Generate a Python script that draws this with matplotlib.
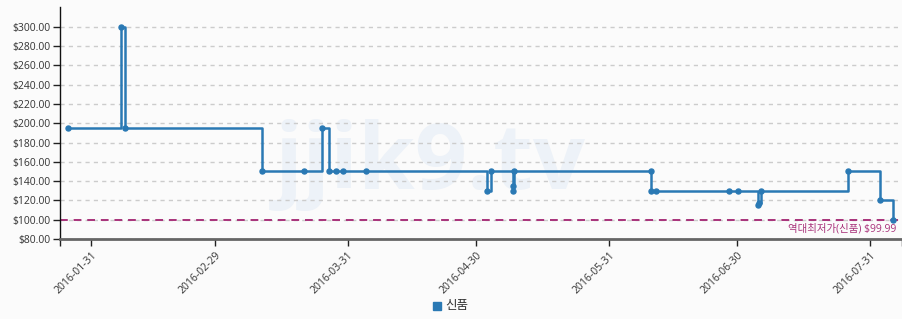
import matplotlib
matplotlib.use("Agg")
import matplotlib.pyplot as plt
import pandas as pd

# price history (new item)
dates = [
    "2016-01-25 16:00", "2016-02-07 00:00", "2016-02-07 23:00", "2016-03-11 00:00",
    "2016-03-20 18:00", "2016-03-24 22:00", "2016-03-26 14:00", "2016-03-28 05:00",
    "2016-03-29 21:00", "2016-04-04 05:00", "2016-05-02 11:00", "2016-05-03 10:00",
    "2016-05-08 12:00", "2016-05-08 16:00", "2016-05-08 20:00", "2016-06-09 19:00",
    "2016-06-09 21:00", "2016-06-11 00:00", "2016-06-28 03:00", "2016-06-30 05:00",
    "2016-07-04 20:00", "2016-07-05 04:00", "2016-07-05 14:00", "2016-07-25 22:00",
    "2016-08-02 10:00", "2016-08-05 11:00",
]
prices = [
    194.99, 299.99, 194.99, 149.99,
    149.99, 194.99, 149.99, 149.99,
    149.99, 149.99, 129.99, 149.99,
    129.99, 134.99, 149.99, 149.99,
    129.99, 129.99, 129.99, 129.99,
    114.99, 116.99, 129.99, 149.99,
    119.99, 99.99,
]
lowest_price = 99.99
lowest_label = "역대최저가(신품) $99.99"
series_name = "신품"
month_ticks = ["2016-01-31", "2016-02-29", "2016-03-31", "2016-04-30",
               "2016-05-31", "2016-06-30", "2016-07-31"]
y_ticks = list(range(80, 301, 20))

plt.rcParams['font.family'] = ['Open Sans', 'Noto Sans CJK KR', 'DejaVu Sans']

blue = '#2a79b4'
purple = '#a8327a'
bg = '#fbfbfb'

x = pd.to_datetime(dates)

fig = plt.figure(figsize=(9.03, 3.19), dpi=100, facecolor=bg)
ax = fig.add_axes([60 / 903, 1 - 239 / 319, 842 / 903, 232 / 319])
ax.set_facecolor(bg)

# faint watermark, kept behind the data
ax.text(430 / 903, 1 - 165 / 319, "jjik9.tv", transform=fig.transFigure,
        fontsize=66, fontweight='bold', color='#edf2f8', ha='center',
        va='center', zorder=0)

ax.step(x, prices, where='post', color=blue, lw=1.8, zorder=3)
ax.plot(x, prices, 'o', color=blue, ms=3.6, zorder=4)

ax.axhline(lowest_price, color=purple, lw=1.4, ls=(0, (4, 3)), zorder=2)
ax.text(0.993, lowest_price - 4, lowest_label, transform=ax.get_yaxis_transform(),
        ha='right', va='top', color=purple, fontsize=7.5, zorder=5)

xmin = pd.Timestamp("2016-01-23 18:00")
xmax = pd.Timestamp("2016-08-07 12:00")
ax.set_xlim(xmin, xmax)
ax.set_ylim(80, 320.5)

ax.set_yticks(y_ticks)
ax.set_yticklabels([f"${v:.2f}" for v in y_ticks])
ax.yaxis.grid(True, color='#cccccc', ls=(0, (3, 3)), lw=1, zorder=1)
ax.set_axisbelow(True)

ticks = pd.to_datetime(month_ticks)
ax.set_xticks(ticks)
ax.set_xticklabels(month_ticks, rotation=45, ha='right', rotation_mode='anchor')
ax.set_xticks([xmin, xmax], minor=True)
ax.tick_params(axis='x', which='minor', length=5, width=1, color='#222222')
ax.tick_params(axis='x', which='major', length=5, width=1, color='#222222',
               labelsize=7.5, labelcolor='#333333', pad=3)
ax.tick_params(axis='y', length=5, width=1, color='#222222',
               labelsize=7.5, labelcolor='#333333', pad=2)

for s in ['top', 'right']:
    ax.spines[s].set_visible(False)
ax.spines['left'].set_color('#111111')
ax.spines['left'].set_linewidth(1)
ax.spines['bottom'].set_color('#666666')
ax.spines['bottom'].set_linewidth(2)

# legend
fig.patches.append(plt.Rectangle((433 / 903, 1 - 310 / 319), 8 / 903, 8 / 319,
                                 transform=fig.transFigure, color=blue))
fig.text(445 / 903, 1 - 306 / 319, series_name, fontsize=9, color='#333333',
         ha='left', va='center')

fig.savefig("out.png", dpi=100, facecolor=bg)
